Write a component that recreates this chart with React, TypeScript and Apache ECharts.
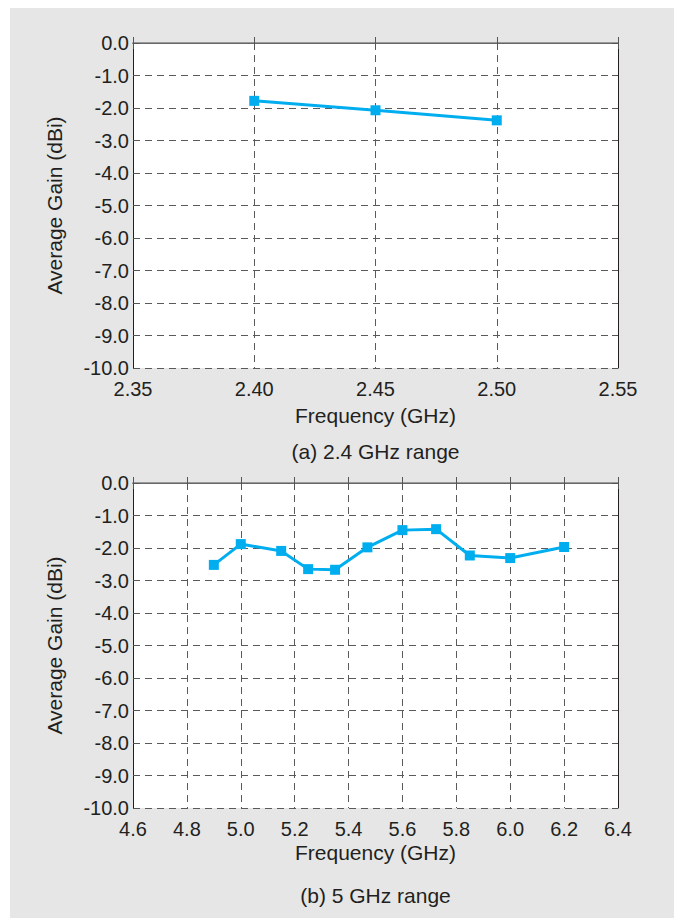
import React, { useEffect, useRef } from "react";
import * as echarts from "echarts";

const freq24 = [2.4, 2.45, 2.5];
const gain24 = [-1.78, -2.07, -2.38];

const freq5 = [4.9, 5.0, 5.15, 5.25, 5.35, 5.47, 5.6, 5.725, 5.85, 6.0, 6.2];
const gain5 = [-2.52, -1.88, -2.09, -2.65, -2.67, -1.98, -1.45, -1.42, -2.23, -2.31, -1.97];

const xAxisTitle = "Frequency (GHz)";
const yAxisTitle = "Average Gain (dBi)";
const captionA = "(a) 2.4 GHz range";
const captionB = "(b) 5 GHz range";

const FONT = "'Liberation Sans', Arial, Helvetica, sans-serif";
const TEXT = "#231f20";
const LINE = "#00aeef";
const GRIDC = "#5a5a5a";
const TICKFS = 20;
const NAMEFS = 21;

function makeAxes(gi: number, xmin: number, xmax: number, xint: number, xdec: number, nameGap: number) {
  const xs = [
    {
      gridIndex: gi,
      type: "value",
      position: "bottom",
      min: xmin,
      max: xmax,
      interval: xint,
      axisLine: { show: true, lineStyle: { color: "#231f20", width: 1 } },
      axisTick: { show: true, inside: true, length: 6, lineStyle: { color: "#555" } },
      axisLabel: {
        fontSize: TICKFS,
        color: TEXT,
        fontFamily: FONT,
        margin: 11,
        formatter: (v: number) => v.toFixed(xdec),
      },
      splitLine: { show: true, lineStyle: { color: GRIDC, type: [7, 5], width: 1 } },
      name: xAxisTitle,
      nameLocation: "middle",
      nameGap,
      nameTextStyle: { fontSize: NAMEFS, color: TEXT, fontFamily: FONT },
    },
    {
      gridIndex: gi,
      type: "value",
      position: "top",
      min: xmin,
      max: xmax,
      interval: xint,
      axisLine: { show: true, lineStyle: { color: "#808080", width: 1.5 } },
      axisTick: { show: true, inside: true, length: 6, lineStyle: { color: "#555" } },
      axisLabel: { show: false },
      splitLine: { show: false },
    },
  ];
  const ys = [
    {
      gridIndex: gi,
      type: "value",
      position: "left",
      min: -10,
      max: 0,
      interval: 1,
      axisLine: { show: true, lineStyle: { color: "#231f20", width: 1 } },
      axisTick: { show: true, inside: true, length: 6, lineStyle: { color: "#555" } },
      axisLabel: {
        fontSize: TICKFS,
        color: TEXT,
        fontFamily: FONT,
        margin: 4,
        formatter: (v: number) => v.toFixed(1),
      },
      splitLine: { show: true, lineStyle: { color: GRIDC, type: [7, 5], width: 1 } },
      name: yAxisTitle,
      nameLocation: "middle",
      nameGap: 68,
      nameRotate: 90,
      nameTextStyle: { fontSize: NAMEFS, color: TEXT, fontFamily: FONT },
    },
    {
      gridIndex: gi,
      type: "value",
      position: "right",
      min: -10,
      max: 0,
      interval: 1,
      axisLine: { show: true, lineStyle: { color: "#231f20", width: 1 } },
      axisTick: { show: true, inside: true, length: 6, lineStyle: { color: "#555" } },
      axisLabel: { show: false },
      splitLine: { show: false },
    },
  ];
  return { xs, ys };
}

export default function App() {
  const ref = useRef<HTMLDivElement>(null);
  useEffect(() => {
    if (!ref.current) return;
    const chart = echarts.init(ref.current, null, { renderer: "svg" });
    const a = makeAxes(0, 2.35, 2.55, 0.05, 2, 37);
    const b = makeAxes(1, 4.6, 6.4, 0.2, 1, 34);
    chart.setOption({
      animation: false,
      textStyle: { fontFamily: FONT },
      grid: [
        { left: 133, top: 43, width: 485, height: 325, show: true, backgroundColor: "#fff", borderWidth: 0 },
        { left: 133, top: 483, width: 485, height: 325, show: true, backgroundColor: "#fff", borderWidth: 0 },
      ],
      xAxis: [...a.xs, ...b.xs],
      yAxis: [...a.ys, ...b.ys],
      series: [
        {
          type: "line",
          xAxisIndex: 0,
          yAxisIndex: 0,
          data: freq24.map((f, i) => [f, gain24[i]]),
          symbol: "rect",
          symbolSize: 10,
          lineStyle: { color: LINE, width: 3 },
          itemStyle: { color: LINE },
          z: 5,
        },
        {
          type: "line",
          xAxisIndex: 2,
          yAxisIndex: 2,
          data: freq5.map((f, i) => [f, gain5[i]]),
          symbol: "rect",
          symbolSize: 10,
          lineStyle: { color: LINE, width: 3 },
          itemStyle: { color: LINE },
          z: 5,
        },
      ],
      graphic: [
        {
          type: "text",
          x: 375.5,
          y: 451,
          style: {
            text: captionA,
            fontSize: NAMEFS,
            fill: TEXT,
            fontFamily: FONT,
            textAlign: "center",
            textVerticalAlign: "middle",
          },
        },
        {
          type: "text",
          x: 375.5,
          y: 895,
          style: {
            text: captionB,
            fontSize: NAMEFS,
            fill: TEXT,
            fontFamily: FONT,
            textAlign: "center",
            textVerticalAlign: "middle",
          },
        },
      ],
    });
    return () => chart.dispose();
  }, []);
  return (
    <div style={{ position: "absolute", left: 0, top: 0, width: 682, height: 918, background: "#fff" }}>
      <div style={{ position: "absolute", left: 10, top: 8, width: 664, height: 910, background: "#e6e6e6" }} />
      <div ref={ref} style={{ position: "absolute", left: 0, top: 0, width: 682, height: 918 }} />
    </div>
  );
}
